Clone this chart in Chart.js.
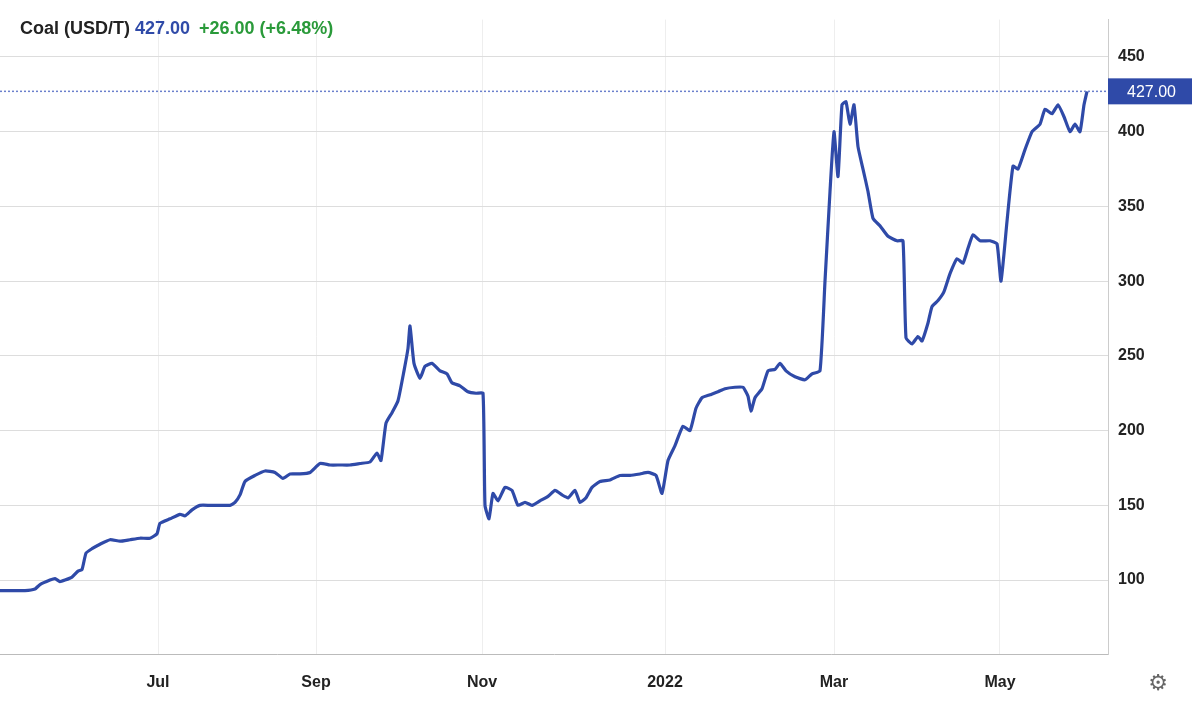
<!DOCTYPE html>
<html><head><meta charset="utf-8">
<script src="https://cdn.jsdelivr.net/npm/chart.js@4"></script>
<style>html,body{margin:0;padding:0;background:#fff}#w{width:1200px;height:710px}</style>
</head><body><div id="w"><canvas id="c"></canvas></div>
<script>
// [trading-day index (approx), price]
const series=[[0,93],[6.25,93],[8.75,94],[10,97],[12.5,100],[13.75,101],[15,99],[16.25,100],[18,102],[19.5,106],[20.5,107],[21.5,118],[23,121],[25,124],[27.5,127],[30,126],[32.5,127],[35,128],[37.5,128],[39.25,131],[40,138],[42.5,141],[45,144],[46.25,143],[48,147],[50,150],[52.5,150],[55,150],[57.5,150],[58.75,152],[60,157],[61.25,166],[63.75,170],[66.25,173],[68.75,172],[70.75,168],[72.5,171],[75,171],[77.5,172],[80,178],[82.5,177],[85,177],[87.5,177],[90,178],[92.5,179],[94.25,185],[95.25,180],[96.5,205],[98,212],[99.5,220],[101,240],[102,255],[102.5,270],[103.5,245],[105,235],[106.25,243],[108,245],[110,240],[111.75,238],[113,232],[115,230],[117,226],[119,225],[120.75,225],[121.25,150],[122.25,141],[123.25,158],[124.5,153],[126.25,162],[128,160],[129.5,150],[131.25,152],[133,150],[135,153],[137,156],[138.75,160],[140.5,157],[142,155],[143.75,160],[145,152],[146.5,155],[148,162],[150,166],[152.5,167],[155,170],[157.5,170],[160,171],[162,172],[164,170],[165.5,158],[167,180],[168.75,190],[170.75,203],[172.5,200],[174,215],[175.5,222],[177.5,224],[179.5,226],[181.25,228],[183.75,229],[185.75,229],[187,223],[187.75,213],[188.75,222],[190.5,228],[192,240],[193.75,241],[195,245],[196.5,240],[198.75,236],[201.25,234],[203,238],[205,240],[206.25,300],[207.5,360],[208.5,400],[209.5,370],[210.5,418],[211.5,420],[212.5,405],[213.5,418],[214.5,390],[215.75,375],[217,360],[218.25,342],[220,337],[222,330],[224.25,327],[225.75,327],[226.5,262],[228,258],[229.5,263],[230.5,260],[232,272],[233,283],[234.5,287],[236,293],[237.5,305],[239.25,315],[240.75,312],[242,322],[243.25,331],[245,327],[247.5,327],[249.25,325],[250.25,300],[251.75,340],[253.25,377],[254.5,375],[256.25,388],[258,400],[260,405],[261.25,415],[263,412],[264.5,418],[266,410],[267.5,400],[268.75,405],[270,400],[271,418],[271.75,427]];
const tickDays=[39.5,79,120.5,166.25,208.5,250];
const tickLabels=['Jul','Sep','Nov','2022','Mar','May'];
const yTicks=[100,150,200,250,300,350,400,450];
const last=427, title='Coal (USD/T)', change='+26.00 (+6.48%)';
const blue='#2f4aa8';
const extra={id:'extra',afterDraw(ch){
 const c=ch.ctx,a=ch.chartArea,y=ch.scales.y,py=y.getPixelForValue(last);
 c.save();
 c.setLineDash([2,2]);c.strokeStyle='#6b80cc';c.lineWidth=1.5;
 c.beginPath();c.moveTo(a.left,py);c.lineTo(a.right,py);c.stroke();c.setLineDash([]);
 c.fillStyle=blue;c.fillRect(a.right,py-13,84,26);
 c.fillStyle='#fff';c.font='16px "Liberation Sans",Arial';c.textAlign='left';c.textBaseline='middle';
 c.fillText(last.toFixed(2),a.right+19,py+1);
 c.font='bold 18px "Liberation Sans",Arial';c.textBaseline='alphabetic';
 let x=20;c.fillStyle='#222';c.fillText(title,x,34);x+=c.measureText(title+' ').width;
 c.fillStyle=blue;c.fillText(last.toFixed(2),x,34);x+=c.measureText(last.toFixed(2)+' ').width+4;
 c.fillStyle='#2a9a3a';c.fillText(change,x,34);
 c.fillStyle='#666';c.font='22px "DejaVu Sans"';c.textAlign='center';c.fillText('⚙',1158,690);
 c.restore();}};
new Chart(document.getElementById('c'),{type:'line',
 data:{datasets:[{data:series.map(p=>({x:p[0],y:p[1]})),borderColor:blue,borderWidth:3.2,pointRadius:0,tension:0.15}]},
 options:{responsive:true,maintainAspectRatio:false,animation:false,
  layout:{padding:{top:0,right:0,bottom:0,left:0}},
  plugins:{legend:{display:false},tooltip:{enabled:false}},
  scales:{
   x:{type:'linear',min:0,max:277,
    afterBuildTicks:s=>{s.ticks=tickDays.map(v=>({value:v}));},
    ticks:{callback:(v)=>tickLabels[tickDays.indexOf(v)]||'',color:'#222',font:{size:16,weight:'bold',family:'"Liberation Sans",Arial'},maxRotation:0,autoSkip:false,padding:18},
    grid:{color:'#eeeeee',drawTicks:false},border:{color:'#bbb'}},
   y:{position:'right',min:50,max:475,
    afterBuildTicks:s=>{s.ticks=yTicks.map(v=>({value:v}));},
    afterFit:s=>{s.width=92;},
    ticks:{color:'#222',font:{size:16,weight:'bold',family:'"Liberation Sans",Arial'},padding:10},
    grid:{color:'#dddddd',drawTicks:false},border:{color:'#ccc'}}
  }},plugins:[extra]});
</script></body></html>
